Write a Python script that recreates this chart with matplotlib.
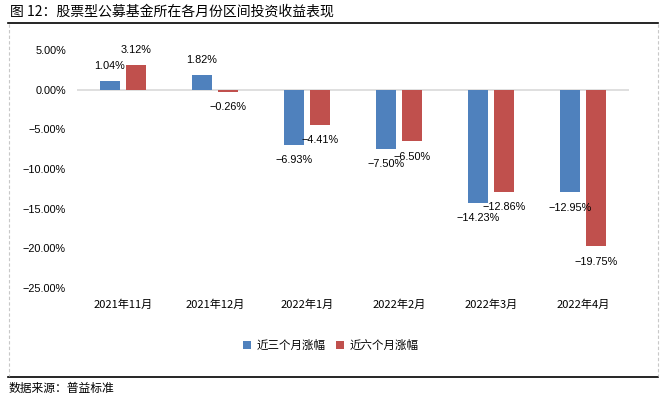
import numpy as np
import matplotlib
matplotlib.use("Agg")
from matplotlib import pyplot as plt
from matplotlib.lines import Line2D

plt.rcParams["font.family"] = ["Noto Sans CJK SC", "DejaVu Sans"]

months = ["2021年11月", "2021年12月", "2022年1月", "2022年2月", "2022年3月", "2022年4月"]
chg_3m = [1.04, 1.82, -6.93, -7.50, -14.23, -12.95]
chg_6m = [3.12, -0.26, -4.41, -6.50, -12.86, -19.75]
series_names = ["近三个月涨幅", "近六个月涨幅"]
yticks = [5, 0, -5, -10, -15, -20, -25]

blue = "#4F81BD"
red = "#C0504D"
num_font = ["Liberation Sans", "DejaVu Sans"]


def pct(v):
    return f"{v:.2f}%".replace("-", "\u2212")


fig = plt.figure(figsize=(6.67, 3.97), dpi=100)
ax = fig.add_axes([77 / 667, 1 - 288 / 397, 552 / 667, 238 / 397])

x = np.arange(len(months))
w = 0.22
off = 0.142
b1 = ax.bar(x - off, chg_3m, w, color=blue, label=series_names[0])
b2 = ax.bar(x + off, chg_6m, w, color=red, label=series_names[1])

for bars, vals in ((b1, chg_3m), (b2, chg_6m)):
    for rect, v in zip(bars, vals):
        dy = 11 if v >= 0 else -11
        ax.annotate(pct(v), (rect.get_x() + rect.get_width() / 2, v),
                    xytext=(0, dy), textcoords="offset points",
                    ha="center", va="center", fontsize=7.8, color="#000000",
                    family=num_font)

ax.set_xlim(-0.5, len(months) - 0.5)
ax.set_ylim(-25, 5)
ax.set_yticks(yticks)
ax.set_yticklabels([pct(v) for v in yticks], family=num_font, fontsize=7.8)
ax.set_xticks(x)
ax.set_xticklabels(months, fontsize=8)
ax.tick_params(axis="both", length=0)
ax.tick_params(axis="y", pad=8)
ax.tick_params(axis="x", pad=8)
for s in ax.spines.values():
    s.set_visible(False)
ax.axhline(0, color="#D9D9D9", lw=1.2, zorder=0)

ax.legend(loc="center", bbox_to_anchor=(0.46, -0.24), ncol=2, frameon=False,
          fontsize=8.3, handlelength=0.7, handleheight=0.7, handletextpad=0.5,
          columnspacing=0.9)

# title, frame lines and source note
fig.text(10 / 667, 1 - 12 / 397, "图 12：股票型公募基金所在各月份区间投资收益表现",
         fontsize=10, va="center", ha="left")
fig.add_artist(Line2D([8 / 667, 658 / 667], [1 - 23 / 397, 1 - 23 / 397], color="black", lw=1.2))
fig.add_artist(Line2D([8 / 667, 658 / 667], [1 - 377 / 397, 1 - 377 / 397], color="black", lw=1.2))
for xp in (8.5 / 667, 658 / 667):
    fig.add_artist(Line2D([xp, xp], [1 - 24 / 397, 1 - 376 / 397], color="#C8C8C8", lw=0.8, ls=(0, (3, 2))))
fig.text(9 / 667, 1 - 388 / 397, "数据来源：普益标准", fontsize=8.5, va="center", ha="left")

fig.savefig("out.png", dpi=100)
